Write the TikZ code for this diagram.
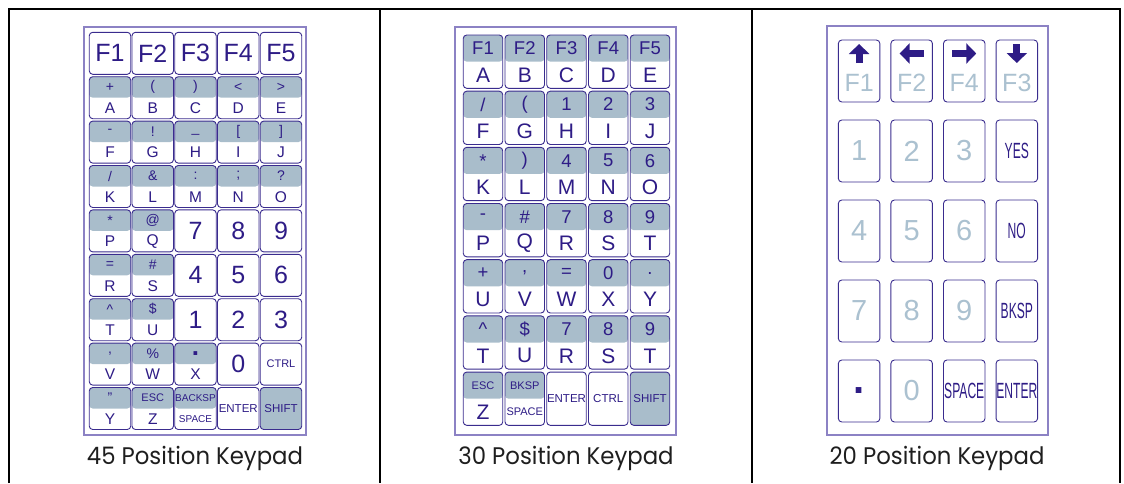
\documentclass[tikz,border=0pt]{standalone}
\usepackage{fontspec}
\setmainfont{Liberation Sans}
\newfontfamily\capfont[FakeStretch=0.95]{Poppins}
\newfontfamily\narrowfont[FakeStretch=0.55]{Liberation Sans}
\usepackage{tikz}
\usetikzlibrary{arrows.meta}
\definecolor{keyink}{HTML}{2E1C86}
\definecolor{keyedge}{HTML}{3A2C8E}
\definecolor{padedge}{HTML}{8C82C4}
\definecolor{keygray}{HTML}{A9BDCB}
\definecolor{keylight}{HTML}{ABC1D0}
\definecolor{capink}{HTML}{1E1E1E}

\tikzset{
  keybox/.style={draw=keyedge,line width=0.9pt,rounded corners=3.5pt,fill=white,inner sep=0pt,text=keyink},
  halfkey/.style={path picture={\fill[keygray] (path picture bounding box.north west) rectangle (path picture bounding box.east);}},
  keyA/.style={keybox,minimum width=41.5pt,minimum height=42pt},
  keyB/.style={keybox,minimum width=39.5pt,minimum height=53.3pt},
  keyC/.style={keybox,minimum width=41.5pt,minimum height=62pt},
  inktext/.style={text=keyink,inner sep=0pt},
  padline/.style={draw=padedge,line width=1.7pt},
  framepart/.style={line width=2pt},
  arrowink/.style={keyink,line width=7pt,-{Triangle[width=20pt,length=10pt]}},
  caption/.style={text=capink,font=\capfont\fontsize{24}{24}\selectfont}
}

\begin{document}
\begin{tikzpicture}[x=1pt,y=-1pt]
  \useasboundingbox (0,0) rectangle (1124,483);
  % frame round the three pictures
  \draw[framepart] (9,483) -- (9,9) -- (1120,9) -- (1120,483);
  \draw[framepart] (380,9) -- (380,483);
  \draw[framepart] (752,9) -- (752,483);

  % 45 position keypad
  \draw[padline] (84,27) rectangle (306,435);
  \foreach \t [count=\c from 0] in {F1,F2,F3,F4,F5}
    \node[keyA,font=\fontsize{25}{25}\selectfont] (a-0-\c) at (110+42.75*\c,53.3) {\t};
  \foreach \r/\c/\u/\d in {1/0/+/A,1/1/{(}/B,1/2/{)}/C,1/3/{<}/D,1/4/{>}/E,
      2/0/-/F,2/1/!/G,2/2/\raisebox{-4pt}{\_}/H,2/3/{[}/I,2/4/{]}/J,
      3/0/{/}/K,3/1/\&/L,3/2/:/M,3/3/;/N,3/4/?/O,
      4/0/*/P,4/1/@/Q,5/0/=/R,5/1/\#/S,6/0/\textasciicircum/T,6/1/\$/U,
      7/0/{,}/V,7/1/\%/W,7/2/{\fontsize{26}{26}\bfseries .}/X,8/0/"/Y}{
    \node[keyA,halfkey] (a-\r-\c) at (110+42.75*\c,53.3+44.4*\r) {};
    \node[inktext,font=\fontsize{14}{14}\selectfont] (a-\r-\c-u) at ([yshift=10.5pt]a-\r-\c.center) {\u};
    \node[inktext,font=\fontsize{15.5}{15.5}\selectfont] (a-\r-\c-d) at ([yshift=-10.5pt]a-\r-\c.center) {\d};
  }
  \foreach \r/\c/\t in {4/2/7,4/3/8,4/4/9,5/2/4,5/3/5,5/4/6,6/2/1,6/3/2,6/4/3,7/3/0}
    \node[keyA,font=\fontsize{25}{25}\selectfont] (a-\r-\c) at (110+42.75*\c,53.3+44.4*\r) {\t};
  \node[keyA,font=\fontsize{11}{11}\selectfont] (a-7-4) at (281,364.1) {CTRL};
  \node[keyA,halfkey] (a-8-1) at (152.75,408.5) {};
  \node[inktext,font=\fontsize{11}{11}\selectfont] (a-8-1-u) at ([yshift=10.5pt]a-8-1.center) {ESC};
  \node[inktext,font=\fontsize{15.5}{15.5}\selectfont] (a-8-1-d) at ([yshift=-10.5pt]a-8-1.center) {Z};
  \node[keyA,halfkey] (a-8-2) at (195.5,408.5) {};
  \node[inktext,font=\fontsize{10}{10}\selectfont] (a-8-2-u) at ([yshift=10.5pt]a-8-2.center) {BACKSP};
  \node[inktext,font=\fontsize{10}{10}\selectfont] (a-8-2-d) at ([yshift=-10.5pt]a-8-2.center) {SPACE};
  \node[keyA,font=\fontsize{11.5}{11.5}\selectfont] (a-8-3) at (238.25,408.5) {ENTER};
  \node[keyA,fill=keygray,font=\fontsize{11.5}{11.5}\selectfont] (a-8-4) at (281,408.5) {SHIFT};
  \node[caption] (cap-a) at (195,458) {45 Position Keypad};

  % 30 position keypad
  \draw[padline] (455,27) rectangle (676,435);
  \foreach \r/\c/\u/\d in {0/0/F1/A,0/1/F2/B,0/2/F3/C,0/3/F4/D,0/4/F5/E,
      1/0/{/}/F,1/1/{(}/G,1/2/1/H,1/3/2/I,1/4/3/J,
      2/0/*/K,2/1/{)}/L,2/2/4/M,2/3/5/N,2/4/6/O,
      3/0/-/P,3/1/\#/Q,3/2/7/R,3/3/8/S,3/4/9/T,
      4/0/+/U,4/1/{,}/V,4/2/=/W,4/3/0/X,4/4/./Y,
      5/0/\textasciicircum/T,5/1/\$/U,5/2/7/R,5/3/8/S,5/4/9/T}{
    \node[keyB,halfkey] (b-\r-\c) at (483+41.75*\c,61.65+56.17*\r) {};
    \node[inktext,font=\fontsize{18.5}{18.5}\selectfont] (b-\r-\c-u) at ([yshift=13.3pt]b-\r-\c.center) {\u};
    \node[inktext,font=\fontsize{21}{21}\selectfont] (b-\r-\c-d) at ([yshift=-13.3pt]b-\r-\c.center) {\d};
  }
  \node[keyB,halfkey] (b-6-0) at (483,398.7) {};
  \node[inktext,font=\fontsize{11}{11}\selectfont] (b-6-0-u) at ([yshift=13.3pt]b-6-0.center) {ESC};
  \node[inktext,font=\fontsize{21}{21}\selectfont] (b-6-0-d) at ([yshift=-13.3pt]b-6-0.center) {Z};
  \node[keyB,halfkey] (b-6-1) at (524.75,398.7) {};
  \node[inktext,font=\fontsize{11}{11}\selectfont] (b-6-1-u) at ([yshift=13.3pt]b-6-1.center) {BKSP};
  \node[inktext,font=\fontsize{11}{11}\selectfont] (b-6-1-d) at ([yshift=-13.3pt]b-6-1.center) {SPACE};
  \node[keyB,font=\fontsize{11.5}{11.5}\selectfont] (b-6-2) at (566.5,398.7) {ENTER};
  \node[keyB,font=\fontsize{11.5}{11.5}\selectfont] (b-6-3) at (608.25,398.7) {CTRL};
  \node[keyB,fill=keygray,font=\fontsize{11.5}{11.5}\selectfont] (b-6-4) at (650,398.7) {SHIFT};
  \node[caption] (cap-b) at (566,458) {30 Position Keypad};

  % 20 position keypad
  \draw[padline] (827,26) rectangle (1048,435);
  \foreach \t [count=\c from 0] in {F1,F2,F4,F3}{
    \node[keyC] (c-0-\c) at (859.1+52.57*\c,71) {};
    \node[text=keylight,inner sep=0pt,font=\fontsize{25}{25}\selectfont] (c-0-\c-f) at ([yshift=-11.5pt]c-0-\c.center) {\t};
  }
  \draw[arrowink] ([yshift=8pt]c-0-0.center) -- ([yshift=27pt]c-0-0.center);
  \draw[arrowink] ([xshift=12pt,yshift=17.5pt]c-0-1.center) -- ([xshift=-12pt,yshift=17.5pt]c-0-1.center);
  \draw[arrowink] ([xshift=-12pt,yshift=17.5pt]c-0-2.center) -- ([xshift=12pt,yshift=17.5pt]c-0-2.center);
  \draw[arrowink] ([yshift=27pt]c-0-3.center) -- ([yshift=8pt]c-0-3.center);
  \foreach \r/\c/\t in {1/0/1,1/1/2,1/2/3,2/0/4,2/1/5,2/2/6,3/0/7,3/1/8,3/2/9,4/1/0}
    \node[keyC,text=keylight,font=\fontsize{29}{29}\selectfont] (c-\r-\c) at (859.1+52.57*\c,71+80*\r) {\t};
  \foreach \r/\c/\t in {1/3/YES,2/3/NO,3/3/BKSP,4/2/SPACE,4/3/ENTER}
    \node[keyC,font=\narrowfont\fontsize{22}{22}\selectfont] (c-\r-\c) at (859.1+52.57*\c,71+80*\r) {\t};
  \node[keyC,font=\fontsize{40}{40}\bfseries] (c-4-0) at (859.1,391) {.};
  \node[caption] (cap-c) at (937,458) {20 Position Keypad};
\end{tikzpicture}
\end{document}
